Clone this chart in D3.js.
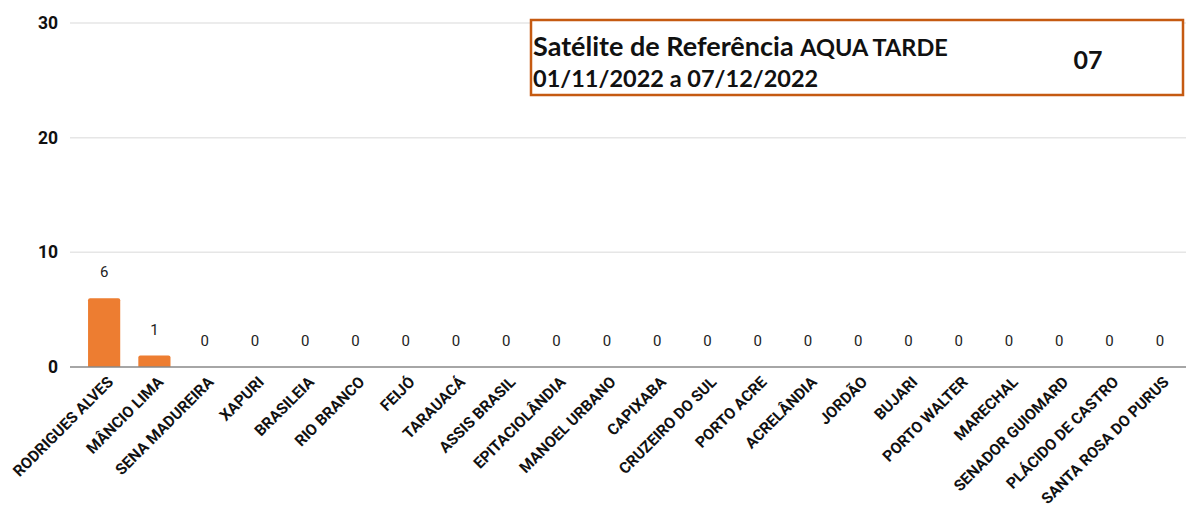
<!DOCTYPE html>
<html>
<head>
<meta charset="utf-8">
<script src="https://cdn.jsdelivr.net/npm/d3@7"></script>
<style>
  body { margin: 0; background: #fff; }
  svg { display: block; }
</style>
</head>
<body>
<script>
// municipios e focos de calor
const cities = ["RODRIGUES ALVES", "MÂNCIO LIMA", "SENA MADUREIRA", "XAPURI", "BRASILEIA",
  "RIO BRANCO", "FEIJÓ", "TARAUACÁ", "ASSIS BRASIL", "EPITACIOLÂNDIA", "MANOEL URBANO",
  "CAPIXABA", "CRUZEIRO DO SUL", "PORTO ACRE", "ACRELÂNDIA", "JORDÃO", "BUJARI",
  "PORTO WALTER", "MARECHAL", "SENADOR GUIOMARD", "PLÁCIDO DE CASTRO", "SANTA ROSA DO PURUS"];
const focos = [6, 1, 0, 0, 0, 0, 0, 0, 0, 0, 0, 0, 0, 0, 0, 0, 0, 0, 0, 0, 0, 0];
const yTicks = [0, 10, 20, 30];
const titleLines = ["Satélite de Referência ", "01/11/2022 a 07/12/2022"];
const satName = "AQUA TARDE";
const total = "07";

const width = 1186, height = 510;

const svg = d3.select('body').append('svg')
  .attr('width', width)
  .attr('height', height);

let x = d3.scaleBand()
  .domain(cities)
  .range([79, 1185])
  .paddingInner(0.36)
  .paddingOuter(0.18);

let y = d3.scaleLinear()
  .domain([0, 30])
  .range([367, 23]);

// grid
svg.append('g')
  .selectAll('line')
  .data(yTicks.filter(d => d > 0))
  .enter().append('line')
    .attr('x1', 70).attr('x2', width)
    .attr('y1', d => y(d)).attr('y2', d => y(d))
    .style('stroke', '#e6e6e6')
    .style('stroke-width', 1.5);

// y labels
svg.append('g')
  .selectAll('text')
  .data(yTicks)
  .enter().append('text')
    .attr('x', 58)
    .attr('y', d => y(d) + 6)
    .attr('text-anchor', 'end')
    .style('font-family', 'Roboto, sans-serif')
    .style('font-weight', 'bold')
    .style('font-size', '17.5px')
    .style('fill', '#111')
    .text(d => d);

// bars
svg.append('g')
  .selectAll('path')
  .data(focos)
  .enter().append('path')
    .attr('d', (d, i) => {
      const x0 = x(cities[i]), w = x.bandwidth(), y0 = y(d), y1 = y(0), r = Math.min(2, (y1 - y0) / 2);
      if (d === 0) return '';
      return `M${x0},${y1}V${y0 + r}Q${x0},${y0} ${x0 + r},${y0}H${x0 + w - r}Q${x0 + w},${y0} ${x0 + w},${y0 + r}V${y1}Z`;
    })
    .style('fill', '#ed7d31');

// baseline
svg.append('line')
  .attr('x1', 70).attr('x2', width)
  .attr('y1', y(0)).attr('y2', y(0))
  .style('stroke', '#888')
  .style('stroke-width', 1.5);

// value labels
svg.append('g')
  .selectAll('text')
  .data(focos)
  .enter().append('text')
    .attr('x', (d, i) => x(cities[i]) + x.bandwidth() / 2)
    .attr('y', d => y(d) - 21)
    .attr('text-anchor', 'middle')
    .style('font-family', 'Roboto, sans-serif')
    .style('font-size', '15px')
    .style('fill', '#222')
    .text(d => d);

// category labels
svg.append('g')
  .selectAll('text')
  .data(cities)
  .enter().append('text')
    .attr('transform', d => `translate(${x(d) + x.bandwidth() / 2 + 10},${y(0) + 16}) rotate(-45)`)
    .attr('text-anchor', 'end')
    .style('font-family', 'Roboto, sans-serif')
    .style('font-weight', 'bold')
    .style('font-size', '15.5px')
    .style('fill', '#111')
    .text(d => d);

// caixa do titulo
let box = svg.append('g');
box.append('rect')
  .attr('x', 531).attr('y', 20)
  .attr('width', 652).attr('height', 75)
  .style('fill', '#fff')
  .style('stroke', '#c55a11')
  .style('stroke-width', 2.5);

let t1 = box.append('text')
  .attr('x', 533).attr('y', 56)
  .style('font-family', 'Lato, sans-serif')
  .style('font-weight', 'bold')
  .style('fill', '#111');
t1.append('tspan').style('font-size', '27px').text(titleLines[0]);
t1.append('tspan').style('font-size', '23.5px').text(satName);

box.append('text')
  .attr('x', 533).attr('y', 87)
  .style('font-family', 'Lato, sans-serif')
  .style('font-weight', 'bold')
  .style('font-size', '23.5px')
  .style('fill', '#111')
  .text(titleLines[1]);

box.append('text')
  .attr('x', 1088).attr('y', 69)
  .attr('text-anchor', 'middle')
  .style('font-family', 'Lato, sans-serif')
  .style('font-weight', 'bold')
  .style('font-size', '25px')
  .style('fill', '#111')
  .text(total);
</script>
</body>
</html>
